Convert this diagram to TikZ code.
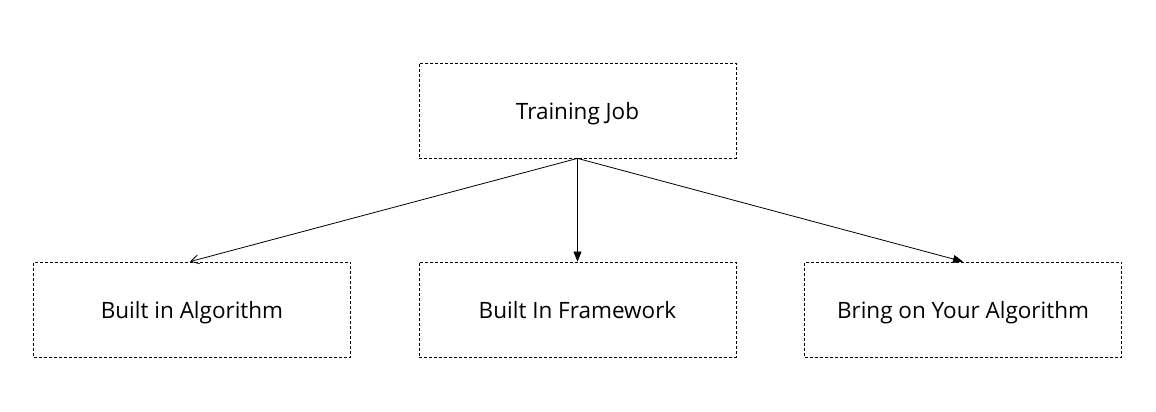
\documentclass[tikz,border=0pt]{standalone}
\usepackage{fontspec}
\setmainfont{Open Sans}
\usetikzlibrary{arrows.meta}
\begin{document}
\begin{tikzpicture}[x=1pt,y=1pt,
  box/.style={draw=black, line width=0.8pt, dash pattern=on 3pt off 2pt, minimum width=317pt, minimum height=95pt, inner sep=0pt, text height=22pt, text depth=3pt, font=\fontsize{22.5}{26}\selectfont},
  conn/.style={draw=black, line width=0.8pt}]
\useasboundingbox[fill=white] (0,0) rectangle (1156,412);
\node[box] (tj) at (577.5,301.5) {Training Job};
\node[box] (bia) at (192,102.5) {Built in Algorithm};
\node[box] (bif) at (577.5,102.5) {Built In Framework};
\node[box] (byo) at (963,102.5) {Bring on Your Algorithm};
\coordinate (s) at (tj.south);
\draw[conn, -{Straight Barb[length=8pt,width=9pt]}] (s) -- ([xshift=-2pt]bia.north);
\draw[conn, -{Triangle[length=10pt,width=8pt]}] (s) -- (bif.north);
\draw[conn, -{Triangle[length=10pt,width=8pt]}] (s) -- (byo.north);
\end{tikzpicture}
\end{document}
